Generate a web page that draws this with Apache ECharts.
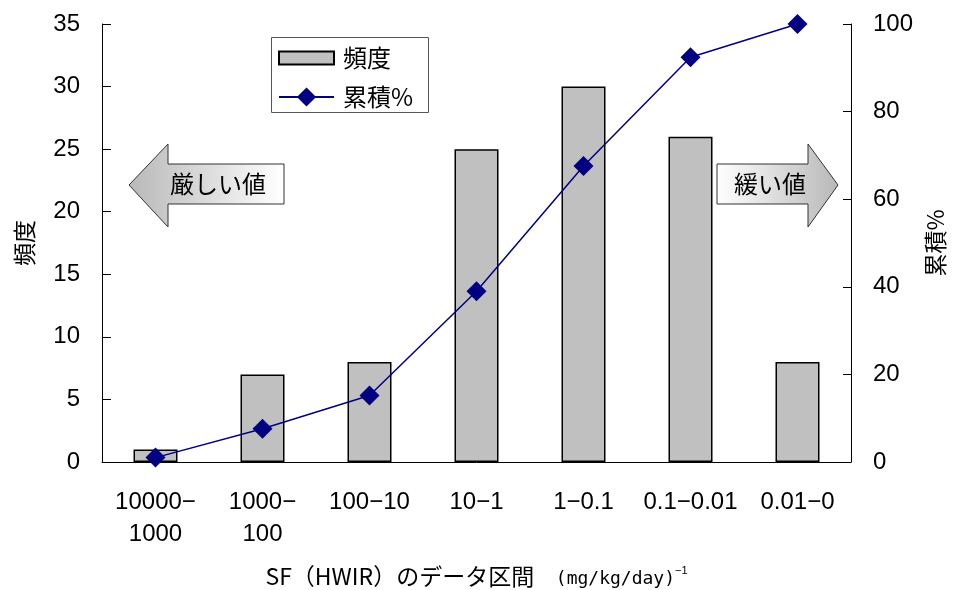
<!DOCTYPE html>
<html>
<head>
<meta charset="utf-8">
<script src="https://cdn.jsdelivr.net/npm/echarts@6/dist/echarts.min.js"></script>
<style>
  html, body { margin: 0; padding: 0; background: #fff; }
  #chart { width: 955px; height: 590px; }
</style>
</head>
<body>
<div id="chart"></div>
<script>
// SF (HWIR) value ranges, from strict (left) to lenient (right)
const categories = ['10000−\n1000', '1000−\n100', '100−10', '10−1', '1−0.1', '0.1−0.01', '0.01−0'];
// Number of substances in each range
const frequency = [1, 7, 8, 25, 30, 26, 8];
// Cumulative percentage
const cumulativePct = [1.0, 7.6, 15.2, 39.0, 67.6, 92.4, 100];

const leftTicks = { min: 0, max: 35, interval: 5 };
const rightTicks = { min: 0, max: 100, interval: 20 };

const FONT = '"Liberation Sans", "Noto Sans CJK JP", sans-serif';
const JP = '"Noto Sans CJK JP", "Liberation Sans", sans-serif';
const MONO = '"DejaVu Sans Mono", "Liberation Mono", monospace';

const chart = echarts.init(document.getElementById('chart'), null, { renderer: 'canvas' });

// shared look of the two legend rows
const legendBase = {
  orient: 'vertical',
  left: 278,
  padding: 0,
  itemWidth: 55,
  textStyle: { fontFamily: JP, fontSize: 24, color: '#000', lineHeight: 28, padding: [0, 0, 0, 4] }
};

const option = {
  backgroundColor: '#ffffff',
  animation: false,
  grid: { left: 102, right: 104, top: 24, bottom: 128, containLabel: false, outerBoundsMode: 'none' },
  legend: [
    Object.assign({}, legendBase, {
      top: 44,
      itemHeight: 13,
      data: [{ name: '頻度', icon: 'rect' }]
    }),
    Object.assign({}, legendBase, {
      top: 83,
      itemHeight: 24,
      data: [{ name: '累積%' }]
    })
  ],
  xAxis: {
    type: 'category',
    data: categories,
    axisLine: { lineStyle: { color: '#000', width: 1 } },
    axisTick: { inside: true, length: 8, lineStyle: { color: '#000' } },
    axisLabel: {
      fontFamily: FONT, fontSize: 24, color: '#000', margin: 24,
      lineHeight: 32, interval: 0
    },
    name: '{a|SF（HWIR）のデータ区間}{b|  (mg/kg/day)}{c|−1}',
    nameLocation: 'middle',
    nameGap: 103,
    nameTextStyle: {
      rich: {
        a: { fontFamily: JP, fontSize: 23, color: '#000', verticalAlign: 'bottom' },
        b: { fontFamily: MONO, fontSize: 18, color: '#000', verticalAlign: 'bottom' },
        c: { fontFamily: FONT, fontSize: 11, color: '#000', verticalAlign: 'top' }
      }
    }
  },
  yAxis: [
    {
      type: 'value',
      min: leftTicks.min, max: leftTicks.max, interval: leftTicks.interval,
      axisLine: { show: true, lineStyle: { color: '#000', width: 1 } },
      axisTick: { show: true, inside: true, length: 9, lineStyle: { color: '#000' } },
      splitLine: { show: false },
      axisLabel: { fontFamily: FONT, fontSize: 24, color: '#000', margin: 22 },
      name: '頻度',
      nameLocation: 'middle',
      nameGap: 66,
      nameRotate: 90,
      nameTextStyle: { fontFamily: JP, fontSize: 23, color: '#000' }
    },
    {
      type: 'value',
      position: 'right',
      min: rightTicks.min, max: rightTicks.max, interval: rightTicks.interval,
      axisLine: { show: true, lineStyle: { color: '#000', width: 1 } },
      axisTick: { show: true, inside: true, length: 8, lineStyle: { color: '#000' } },
      splitLine: { show: false },
      axisLabel: { fontFamily: FONT, fontSize: 24, color: '#000', margin: 22 },
      name: '累積%',
      nameLocation: 'middle',
      nameGap: 70,
      nameRotate: 90,
      nameTextStyle: { fontFamily: JP, fontSize: 23, color: '#000' }
    }
  ],
  series: [
    {
      name: '頻度',
      type: 'bar',
      data: frequency,
      barWidth: 44,
      itemStyle: { color: '#c0c0c0', borderColor: '#000', borderWidth: 1.5 },
      z: 2
    },
    {
      name: '累積%',
      type: 'line',
      yAxisIndex: 1,
      data: cumulativePct,
      symbol: 'diamond',
      symbolSize: 20,
      lineStyle: { color: '#000080', width: 1.5 },
      itemStyle: { color: '#000080' },
      z: 5
    }
  ],
  graphic: [
    // legend frame
    {
      type: 'rect',
      shape: { x: 271.5, y: 37.5, width: 157, height: 75 },
      style: { fill: null, stroke: '#555', lineWidth: 1 },
      z: 1
    },
    // "strict values" arrow pointing left
    {
      type: 'polygon',
      shape: { points: [[129, 185], [168, 144], [168, 164], [284, 164], [284, 204], [168, 204], [168, 227]] },
      style: {
        fill: new echarts.graphic.LinearGradient(0, 0, 1, 0, [
          { offset: 0, color: '#b8b8b8' },
          { offset: 1, color: '#ffffff' }
        ]),
        stroke: '#333', lineWidth: 1
      },
      z: 10
    },
    {
      type: 'text',
      x: 218, y: 184,
      style: { text: '厳しい値', fontFamily: JP, fontSize: 24, fill: '#000', align: 'center', verticalAlign: 'middle' },
      z: 11
    },
    // "lenient values" arrow pointing right
    {
      type: 'polygon',
      shape: { points: [[717, 164], [808, 164], [808, 144], [838, 185], [808, 227], [808, 204], [717, 204]] },
      style: {
        fill: new echarts.graphic.LinearGradient(0, 0, 1, 0, [
          { offset: 0, color: '#ffffff' },
          { offset: 1, color: '#b8b8b8' }
        ]),
        stroke: '#333', lineWidth: 1
      },
      z: 10
    },
    {
      type: 'text',
      x: 770, y: 184,
      style: { text: '緩い値', fontFamily: JP, fontSize: 24, fill: '#000', align: 'center', verticalAlign: 'middle' },
      z: 11
    }
  ]
};

chart.setOption(option);
</script>
</body>
</html>
